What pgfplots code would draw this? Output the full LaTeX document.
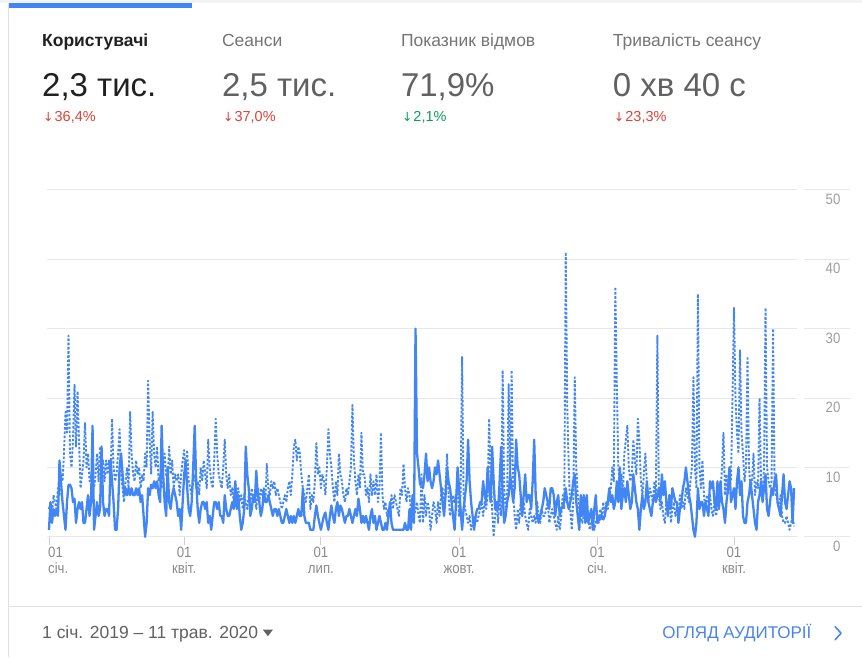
\documentclass[border=0pt]{standalone}
\usepackage{pgfplots}
\pgfplotsset{compat=1.18}
\usepackage{pgfplotstable}
\usepackage{fontspec}
\setmainfont{Liberation Sans}
\newfontfamily\condfont[FakeStretch=0.88]{Liberation Sans}
\newfontfamily\arrowfont{DejaVu Sans}
\definecolor{gblue}{HTML}{4285F4}
\definecolor{txtdark}{HTML}{212121}
\definecolor{txtgray}{HTML}{757575}
\definecolor{valgray}{HTML}{616161}
\definecolor{gred}{HTML}{DB4437}
\definecolor{ggreen}{HTML}{0F9D58}
\definecolor{gridgray}{HTML}{E8E8E8}
\definecolor{tickgray}{HTML}{D0D0D0}
\definecolor{ticklab}{HTML}{8A8A8A}
\definecolor{ylab}{HTML}{9E9E9E}
\definecolor{bordergray}{HTML}{E0E0E0}
\definecolor{topgray}{HTML}{F1F3F4}
\definecolor{linkblue}{HTML}{4A86E8}

% current period (solid), daily values from 1 Jan 2019
\pgfplotstableread[row sep=\\]{
y\\
1\\5\\2\\4\\3\\4\\3\\11\\8\\5\\
3\\1\\5\\7.5\\7.5\\7\\5\\5.5\\2\\4\\
5\\4\\5\\2\\2\\4\\6\\3\\5\\16\\
1\\3\\5\\3\\4\\13\\5\\3\\4\\4\\
3\\11\\8\\5\\1\\1\\4\\10\\12\\9\\
6\\7\\6\\7\\6\\7\\6\\6\\7\\6\\
7\\5\\6\\3\\0\\2\\7\\6\\7.5\\7\\
8\\7\\8\\6\\5\\16\\9\\5\\3\\10\\
5\\4\\6\\7\\6\\5\\3\\4\\1\\5\\
9\\11\\7\\4\\3\\5\\10\\16\\8\\4\\
2\\4\\5\\5\\4\\5\\2\\3\\1\\3\\
5\\5\\4\\5\\3\\3\\2\\6\\4\\3\\
3\\4\\5\\4\\8\\4\\6\\3\\1\\2\\
4\\13\\9\\7\\3\\4\\6\\5\\9.5\\6\\
5\\3\\4\\6.5\\5\\5\\6\\5\\4\\3\\
4\\4\\3\\4\\3\\2\\2\\3\\4\\3\\
2\\3\\2\\3\\2\\3\\4\\3\\3\\7\\
3\\2\\2\\2\\1\\1\\1\\3\\4.5\\3\\
2\\1\\2\\3\\3.5\\2\\1\\3\\4.5\\3\\
2\\4\\5\\3\\4.5\\4\\3\\2\\3\\3\\
4\\3\\2\\3\\4\\3\\5.5\\4\\2\\3\\
2\\3\\2\\1\\3\\4\\2\\3\\1\\2\\
3\\2\\1\\1\\2\\1\\3\\5\\2\\1\\
1\\1\\1\\1\\1\\1\\1\\2\\1\\1\\
4\\1\\6\\2\\30\\12\\10\\7.5\\8\\7\\
9\\12\\8\\10\\8\\7\\8\\10\\9\\11\\
9\\7\\5\\3\\6\\10\\8\\7\\5\\3\\
1\\5\\10\\7\\4\\1\\4\\6\\8\\14\\
8\\5\\3\\1\\3\\4\\4\\5\\5\\8\\
6\\5\\10\\7\\5\\13\\8\\4\\5\\4\\
8\\13\\6\\2\\3\\5\\6\\9\\7\\5\\
7\\14\\10\\9\\6\\3\\6\\9\\5\\6\\
6\\4\\8\\14\\6\\3\\2\\3\\4\\5\\
7\\6\\5\\4\\7\\7\\6\\3\\5\\6\\
3\\4\\4.5\\5\\7\\5\\4\\5\\6\\8\\
9\\5\\3\\1\\6\\3\\6\\2\\6\\2\\
3\\4\\1\\4\\6\\2\\3\\2.5\\3\\2.5\\
3\\4.5\\5\\7\\5\\6\\4\\5\\8\\5\\
10\\4\\6\\7\\5\\8\\6\\4\\5\\9\\
7\\5\\4\\1\\4\\6\\4\\5\\8\\5\\
4\\3\\5\\6\\5\\6\\7\\5\\9\\6\\
8\\5\\3\\6\\4\\7\\6\\5\\5\\2\\
4\\5\\7\\8\\10\\8\\6\\5\\3\\1\\
0\\2\\7\\4\\5\\5\\3\\5\\4\\3\\
8\\7\\8\\5\\4\\8\\4\\8\\5\\4\\
2\\5\\7\\10\\5\\6\\7\\4\\8\\10\\
6\\8\\3\\2\\2\\5\\6\\8\\6\\4\\
2\\1\\5\\6\\8\\5\\7\\9\\4\\3\\
5\\7\\6\\8\\9\\5\\4\\3\\6\\9\\
5\\4\\6\\8\\7\\2\\7\\
}\cur

% previous period (dotted)
\pgfplotstableread[row sep=\\]{
y\\
4\\5\\3\\6\\5\\4\\7\\6\\9\\8\\
12\\18\\15\\29\\12\\10\\14\\22\\13\\21\\
14\\7\\9\\11\\16.5\\10\\12\\8\\9\\7\\
7\\9\\12\\8\\13\\10\\11\\8\\11\\9\\
11\\8\\17\\10\\8\\9\\12\\15.5\\9\\7\\
5\\8\\10\\7\\18\\12\\9\\8\\11\\9\\
10\\7\\9\\8\\12\\10\\22.5\\14\\9\\18\\
12\\10\\13\\8\\9\\7\\10\\12\\9\\8\\
13\\9\\11\\7\\9\\8\\9\\6\\9\\11\\
12.5\\9\\12.5\\8\\7\\6\\8\\9\\7\\8\\
6\\10\\8\\11\\9\\7\\14\\10\\8\\7\\
11\\17\\12\\9\\8\\7\\10\\14\\9\\7\\
9\\6\\7\\5\\8\\6\\7\\5\\6\\4\\
6\\5\\4\\6\\5\\7\\5\\6\\4\\7\\
5\\7\\6\\7\\5\\10.5\\7\\6\\8\\7\\
8\\6\\7\\6\\5\\4\\5\\6\\5\\7\\
8\\6\\9\\13\\14\\11\\13\\12\\9\\7\\
6\\5\\7\\9\\4\\6\\5\\8\\13.5\\9\\
10\\7\\9\\8\\6\\10\\15.5\\12\\10\\7\\
5\\8\\6\\12\\9\\8\\6\\5\\7\\6\\
8\\10\\19\\11\\8\\6\\9\\7\\15\\9\\
9\\6\\7\\5\\9\\6\\8\\6\\9\\5\\
7\\15\\6\\4\\5\\3\\4\\3\\6\\4\\
6\\5\\4\\3\\7\\6\\10.5\\7\\5\\7\\
6\\4\\5\\3\\4\\5\\3\\2\\9\\2\\
6\\3\\5\\4\\1\\3\\5\\4\\2\\5\\
3\\6\\7\\5\\7\\12\\6\\3\\4\\6\\
5\\6\\7\\3\\6\\26\\6\\4\\3\\2\\
3\\1\\2\\3\\3\\2\\3\\4\\5\\3\\
5\\4\\6\\17\\9\\4\\0\\3\\5\\2\\
7\\3\\24\\7\\4\\6\\22\\9\\24\\6\\
3\\1\\4\\2\\5\\3\\5\\3\\2\\1\\
4\\3\\2\\3\\2\\5\\3\\2\\4\\3\\
3\\4\\5\\2\\3\\4\\3\\2\\1\\3\\
1\\3\\6\\4\\41\\19\\10\\4\\1\\5\\
23\\10\\6\\4\\3\\2\\3\\4\\2\\3\\
1\\2\\3\\1\\2\\3\\2\\4\\3\\5\\
3\\5\\4\\6\\7\\10\\8\\36\\22\\10\\
7\\9\\6\\12\\14\\16\\10\\8\\9\\14\\
11\\9\\17\\14\\8\\6\\9\\12\\8\\5\\
7\\6\\5\\8\\6\\29\\6\\4\\5\\3\\
2\\5\\4\\6\\2\\4\\5\\3\\4\\3\\
6\\4\\5\\4\\7\\6\\5\\8\\10\\23\\
10\\7\\35\\10\\7\\11\\6\\4\\6\\5\\
6\\4\\3\\5\\3\\4\\7\\6\\10\\15\\
6\\9\\6\\10\\8\\20\\33\\20\\15\\12\\
27\\15\\12\\8\\10\\26\\10\\7\\8\\12\\
6\\8\\7\\20\\8\\6\\10\\33\\10\\8\\
7\\8\\30\\8\\6\\5\\4\\6\\3\\2\\
2\\3\\2\\1\\2\\3\\1.5\\
}\prev

\begin{document}
\begin{tikzpicture}
% card background
\fill[white] (0pt,0pt) rectangle (862pt,-657pt);
\fill[topgray] (0pt,0pt) rectangle (862pt,-3pt);
\draw[bordergray, line width=0.8pt] (8.6pt,-3pt) -- (8.6pt,-657pt);
\draw[bordergray, line width=0.8pt] (9pt,-607pt) -- (862pt,-607pt);
\fill[gblue] (9pt,-3pt) rectangle (192pt,-8pt);

% KPI titles
\node[anchor=base west, inner sep=0, text=txtdark, font=\fontsize{17.5}{20}\selectfont\bfseries] at (42pt,-47pt) {Користувачі};
\node[anchor=base west, inner sep=0, text=txtgray, font=\fontsize{17.5}{20}\selectfont] at (222pt,-47pt) {Сеанси};
\node[anchor=base west, inner sep=0, text=txtgray, font=\fontsize{17.5}{20}\selectfont] at (401pt,-47pt) {Показник відмов};
\node[anchor=base west, inner sep=0, text=txtgray, font=\fontsize{17.5}{20}\selectfont] at (613pt,-47pt) {Тривалість сеансу};

% KPI values
\node[anchor=base west, inner sep=0, text=txtdark, font=\fontsize{33}{36}\selectfont] at (42pt,-97pt) {2,3 тис.};
\node[anchor=base west, inner sep=0, text=valgray, font=\fontsize{33}{36}\selectfont] at (222pt,-97pt) {2,5 тис.};
\node[anchor=base west, inner sep=0, text=valgray, font=\fontsize{33}{36}\selectfont] at (401pt,-97pt) {71,9\%};
\node[anchor=base west, inner sep=0, text=valgray, font=\fontsize{33}{36}\selectfont] at (613pt,-97pt) {0 хв 40 с};

% KPI changes
\node[anchor=base west, inner sep=0, text=gred, font=\fontsize{14.5}{16}\selectfont] at (43pt,-122pt) {{\arrowfont\fontsize{12.5}{14}\selectfont ↓}\kern1pt 36,4\%};
\node[anchor=base west, inner sep=0, text=gred, font=\fontsize{14.5}{16}\selectfont] at (223pt,-122pt) {{\arrowfont\fontsize{12.5}{14}\selectfont ↓}\kern1pt 37,0\%};
\node[anchor=base west, inner sep=0, text=ggreen, font=\fontsize{14.5}{16}\selectfont] at (402pt,-122pt) {{\arrowfont\fontsize{12.5}{14}\selectfont ↓}\kern1pt 2,1\%};
\node[anchor=base west, inner sep=0, text=gred, font=\fontsize{14.5}{16}\selectfont] at (614pt,-122pt) {{\arrowfont\fontsize{12.5}{14}\selectfont ↓}\kern1pt 23,3\%};

\begin{axis}[
  at={(47pt,-537pt)}, anchor=south west,
  width=750pt, height=347pt, scale only axis,
  xmin=-1.33, xmax=497.7, ymin=0, ymax=50,
  axis line style={draw=none},
  ymajorgrids, grid style={gridgray, line width=0.9pt},
  ytick={0,10,20,30,40,50}, yticklabels={0,10,20,30,40,50},
  yticklabel pos=right,
  yticklabel style={anchor=north east, inner sep=0pt, xshift=36pt, yshift=-4pt, font=\condfont\fontsize{15}{17}\selectfont, text=ylab},
  ytick style={draw=none},
  xtick={90,181,273,365,456},
  xticklabels={{01\\квіт.},{01\\лип.},{01\\жовт.},{01\\січ.},{01\\квіт.}},
  xtick pos=left, tick align=outside, major tick length=8pt,
  xtick style={draw=tickgray, line width=0.8pt},
  xticklabel style={align=center, anchor=north, inner sep=0pt, yshift=-2pt, font=\condfont\fontsize{15}{16.5}\selectfont, text=ticklab},
  extra x ticks={0}, extra x tick labels={{01\\січ.}},
  extra x tick style={xtick style={draw=tickgray, line width=0.8pt}, xticklabel style={anchor=north west, align=left, xshift=-1pt}},
  clip=false,
]
\pgfplotsinvokeforeach{0,10,20,30,40,50}{
  \draw[gridgray, line width=0.9pt] (axis cs:497.7,#1) ++(7pt,0pt) -- ++(46pt,0pt);
}
\addplot[gblue, line width=1.9pt, dash pattern=on 2.4pt off 1.8pt, line join=round] table[x expr=\coordindex, y=y]{\prev};
\addplot[gblue, line width=2.3pt, line join=round] table[x expr=\coordindex, y=y]{\cur};
\end{axis}

% footer
\node[anchor=base west, inner sep=0, text=valgray, font=\fontsize{17.5}{20}\selectfont] at (42pt,-639pt) {1 січ. 2019 – 11 трав. 2020};
\fill[valgray] (263pt,-630pt) -- (273pt,-630pt) -- (268pt,-636.5pt) -- cycle;
\node[anchor=base east, inner sep=0, text=linkblue, font=\fontsize{17}{20}\selectfont] at (812pt,-639pt) {ОГЛЯД АУДИТОРІЇ};
\draw[linkblue, line width=1.6pt, line cap=round, line join=round] (835.5pt,-627pt) -- (841.5pt,-633.5pt) -- (835.5pt,-640pt);
\end{tikzpicture}
\end{document}
